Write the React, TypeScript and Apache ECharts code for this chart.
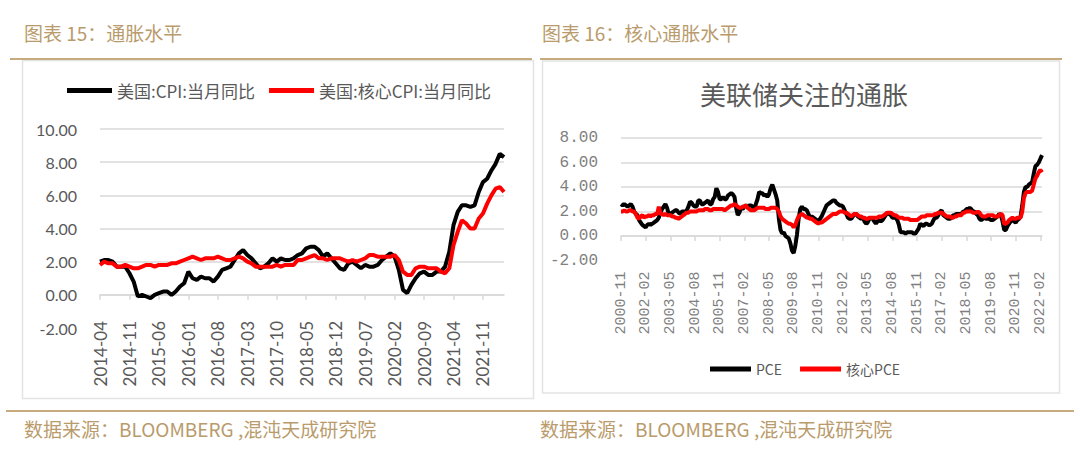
import React, { useEffect, useRef } from "react";
import * as echarts from "echarts";

function monthLabels(y0: number, m0: number, n: number): string[] {
  const out: string[] = [];
  let y = y0;
  let m = m0;
  for (let i = 0; i < n; i++) {
    out.push(`${y}-${m < 10 ? "0" + m : m}`);
    m++;
    if (m > 12) { m = 1; y++; }
  }
  return out;
}

// ---------- Left chart: US CPI YoY (2014-04 .. 2022-04) ----------
const cpiCategories = monthLabels(2014, 4, 97);
const cpiYoY = [
  2.0, 2.1, 2.1, 2.0, 1.7, 1.7, 1.7, 1.3, 0.8,
  -0.1, 0.0, -0.1, -0.2, 0.0, 0.1, 0.2, 0.2, 0.0, 0.2, 0.5, 0.7,
  1.4, 1.0, 0.9, 1.1, 1.0, 1.0, 0.8, 1.1, 1.5, 1.6, 1.7, 2.1,
  2.5, 2.7, 2.4, 2.2, 1.9, 1.6, 1.7, 1.9, 2.2, 2.0, 2.2, 2.1,
  2.1, 2.2, 2.4, 2.5, 2.8, 2.9, 2.9, 2.7, 2.3, 2.5, 2.2, 1.9,
  1.6, 1.5, 1.9, 2.0, 1.8, 1.6, 1.8, 1.7, 1.7, 1.8, 2.1, 2.3,
  2.5, 2.3, 1.5, 0.3, 0.1, 0.6, 1.0, 1.3, 1.4, 1.2, 1.2, 1.4,
  1.4, 1.7, 2.6, 4.2, 5.0, 5.4, 5.4, 5.3, 5.4, 6.2, 6.8, 7.0,
  7.5, 7.9, 8.5, 8.3,
];
const coreCpiYoY = [
  1.8, 2.0, 1.9, 1.9, 1.7, 1.7, 1.8, 1.7, 1.6,
  1.6, 1.7, 1.8, 1.8, 1.7, 1.8, 1.8, 1.8, 1.9, 1.9, 2.0, 2.1,
  2.2, 2.3, 2.2, 2.1, 2.2, 2.2, 2.2, 2.3, 2.2, 2.1, 2.1, 2.2,
  2.3, 2.2, 2.0, 1.9, 1.7, 1.7, 1.7, 1.7, 1.7, 1.8, 1.7, 1.8,
  1.8, 1.8, 2.1, 2.1, 2.2, 2.3, 2.4, 2.2, 2.2, 2.1, 2.2, 2.2,
  2.2, 2.1, 2.0, 2.1, 2.0, 2.1, 2.2, 2.4, 2.4, 2.3, 2.3, 2.3,
  2.3, 2.4, 2.1, 1.4, 1.2, 1.2, 1.6, 1.7, 1.7, 1.6, 1.6, 1.6,
  1.4, 1.3, 1.6, 3.0, 3.8, 4.5, 4.3, 4.0, 4.0, 4.6, 4.9, 5.5,
  6.0, 6.4, 6.5, 6.2,
];
const cpiNames = ["美国:CPI:当月同比", "美国:核心CPI:当月同比"];

// ---------- Right chart: PCE / core PCE YoY (2000-11 .. 2022-03) ----------
const pceCategories = monthLabels(2000, 11, 257);
const pceYoY = [
  2.6, 2.5,
  2.6, 2.5, 2.4, 2.5, 2.6, 2.4, 2.0, 1.8, 1.7, 1.3, 1.1, 0.9,
  0.8, 0.7, 0.9, 1.0, 0.9, 1.0, 1.1, 1.2, 1.3, 1.5, 1.9, 2.2,
  2.4, 2.6, 2.3, 1.8, 1.8, 1.9, 2.0, 2.1, 2.1, 1.9, 1.8, 2.0,
  2.0, 2.0, 2.1, 2.4, 2.8, 2.7, 2.5, 2.4, 2.4, 2.9, 2.9, 2.6,
  2.6, 2.7, 2.8, 2.9, 2.6, 2.6, 3.0, 3.2, 3.9, 3.6, 3.0, 3.0,
  3.2, 3.0, 3.0, 3.3, 3.4, 3.5, 3.4, 3.2, 2.3, 1.7, 1.9, 2.3,
  2.2, 2.4, 2.5, 2.4, 2.5, 2.5, 2.4, 2.2, 2.6, 3.0, 3.6, 3.5,
  3.5, 3.3, 3.4, 3.2, 3.4, 3.9, 4.2, 3.8, 3.4, 2.9, 1.4, 0.5,
  0.2, 0.3, 0.0, -0.1, -0.2, -0.6, -1.2, -1.4, -0.8, 0.1, 1.4, 2.2,
  2.4, 2.2, 2.2, 2.1, 1.8, 1.5, 1.6, 1.5, 1.4, 1.3, 1.2, 1.4,
  1.6, 1.9, 2.2, 2.5, 2.6, 2.7, 2.8, 2.9, 2.9, 2.7, 2.6, 2.5,
  2.5, 2.4, 2.1, 1.8, 1.5, 1.4, 1.4, 1.6, 1.8, 1.8, 1.6, 1.5,
  1.4, 1.5, 1.2, 1.0, 1.1, 1.4, 1.5, 1.4, 1.2, 1.0, 1.2, 1.3,
  1.2, 1.3, 1.5, 1.7, 1.9, 1.8, 1.7, 1.5, 1.5, 1.5, 1.3, 0.9,
  0.3, 0.3, 0.3, 0.2, 0.3, 0.3, 0.3, 0.3, 0.2, 0.2, 0.4, 0.6,
  1.0, 0.9, 0.8, 1.0, 1.0, 0.9, 0.9, 1.0, 1.3, 1.5, 1.5, 1.7,
  2.0, 2.1, 1.7, 1.6, 1.5, 1.4, 1.4, 1.5, 1.7, 1.7, 1.8, 1.8,
  1.8, 1.8, 2.0, 2.0, 2.2, 2.2, 2.3, 2.2, 2.0, 2.0, 1.8, 1.7,
  1.4, 1.3, 1.4, 1.5, 1.4, 1.4, 1.4, 1.3, 1.3, 1.4, 1.5, 1.6,
  1.8, 1.7, 1.2, 0.5, 0.5, 0.8, 1.0, 1.2, 1.3, 1.2, 1.1, 1.3,
  1.4, 1.6, 2.5, 3.6, 4.0, 4.0, 4.2, 4.3, 4.4, 5.1, 5.7, 5.8,
  6.0, 6.3, 6.6,
];
const corePceYoY = [
  2.0, 2.0,
  2.1, 2.0, 2.0, 2.1, 2.1, 2.0, 2.0, 1.8, 1.5, 1.4, 1.6, 1.7,
  1.5, 1.6, 1.6, 1.7, 1.6, 1.7, 1.7, 1.8, 1.8, 2.4, 1.8, 1.8,
  1.7, 1.8, 1.7, 1.7, 1.7, 1.6, 1.6, 1.5, 1.5, 1.4, 1.5, 1.6,
  1.7, 1.8, 1.9, 1.9, 2.0, 2.0, 2.0, 2.0, 2.0, 2.1, 2.1, 2.1,
  2.1, 2.2, 2.2, 2.2, 2.1, 2.1, 2.2, 2.2, 2.2, 2.2, 2.2, 2.2,
  2.2, 2.1, 2.2, 2.3, 2.4, 2.5, 2.5, 2.6, 2.5, 2.4, 2.3, 2.3,
  2.4, 2.4, 2.5, 2.3, 2.2, 2.1, 2.1, 2.1, 2.2, 2.3, 2.3, 2.3,
  2.3, 2.3, 2.2, 2.2, 2.2, 2.3, 2.3, 2.3, 2.3, 2.2, 2.0, 1.6,
  1.4, 1.3, 1.2, 1.1, 1.0, 1.0, 0.9, 0.7, 0.9, 1.3, 1.6, 1.7,
  1.8, 1.7, 1.6, 1.5, 1.5, 1.4, 1.4, 1.3, 1.2, 1.1, 1.0, 1.1,
  1.1, 1.2, 1.3, 1.4, 1.5, 1.6, 1.7, 1.8, 1.8, 1.8, 1.9, 2.0,
  2.0, 2.0, 1.9, 1.9, 1.8, 1.7, 1.6, 1.7, 1.8, 1.8, 1.7, 1.6,
  1.6, 1.5, 1.5, 1.4, 1.4, 1.5, 1.5, 1.5, 1.5, 1.5, 1.5, 1.6,
  1.6, 1.6, 1.7, 1.8, 1.9, 1.9, 1.9, 1.8, 1.7, 1.7, 1.6, 1.5,
  1.5, 1.5, 1.4, 1.4, 1.4, 1.4, 1.3, 1.3, 1.3, 1.3, 1.3, 1.4,
  1.5, 1.6, 1.6, 1.6, 1.7, 1.7, 1.7, 1.7, 1.7, 1.8, 1.8, 1.9,
  1.9, 1.9, 1.8, 1.7, 1.6, 1.6, 1.6, 1.5, 1.5, 1.6, 1.6, 1.7,
  1.7, 1.7, 1.9, 1.9, 2.0, 2.0, 2.0, 2.0, 1.9, 1.9, 1.9, 2.0,
  1.9, 1.7, 1.6, 1.6, 1.6, 1.7, 1.7, 1.7, 1.7, 1.6, 1.6, 1.6,
  1.7, 1.8, 1.7, 1.0, 1.0, 1.1, 1.3, 1.4, 1.5, 1.4, 1.4, 1.5,
  1.5, 1.5, 2.0, 3.1, 3.5, 3.6, 3.6, 3.6, 3.7, 4.2, 4.7, 4.9,
  5.2, 5.4, 5.2,
];
const pceNames = ["PCE", "核心PCE"];

const leftHeader = "图表 15：通胀水平";
const rightHeader = "图表 16：核心通胀水平";
const rightTitle = "美联储关注的通胀";
const sourceNote = "数据来源：BLOOMBERG ,混沌天成研究院";

const GOLD = "#C6AB7E";
const GOLD_TEXT = "#B99B6C";
const GRID_LINE = "#D9D9D9";
const CJK = "'Noto Sans CJK SC', 'Noto Sans', sans-serif";

export default function App() {
  const ref = useRef<HTMLDivElement>(null);
  useEffect(() => {
    if (!ref.current) return;
    const chart = echarts.init(ref.current, null, { renderer: "svg", width: 1080, height: 455 });
    const option: any = {
      animation: false,
      backgroundColor: "#ffffff",
      grid: [
        { left: 100, top: 129, width: 404, height: 199 },
        { left: 621, top: 138, width: 421, height: 122.5 },
      ],
      legend: [
        {
          data: cpiNames,
          left: 62,
          top: 77,
          icon: "rect",
          itemWidth: 45,
          itemHeight: 5,
          itemGap: 14,
          selectedMode: false,
          textStyle: { fontSize: 17, color: "#595959", fontFamily: CJK },
        },
        {
          data: pceNames,
          left: 705,
          top: 357,
          icon: "rect",
          itemWidth: 41,
          itemHeight: 5,
          itemGap: 18,
          selectedMode: false,
          textStyle: { fontSize: 14, color: "#595959", fontFamily: CJK },
        },
      ],
      xAxis: [
        {
          gridIndex: 0,
          type: "category",
          data: cpiCategories,
          boundaryGap: false,
          offset: -15,
          axisLine: { lineStyle: { color: GRID_LINE, width: 1.5 } },
          axisTick: { interval: 6, length: 5, lineStyle: { color: GRID_LINE, width: 1.5 } },
          axisLabel: {
            interval: 6,
            rotate: 90,
            margin: 8,
            color: "#595959",
            fontSize: 17,
            fontFamily: "Lato, 'Liberation Sans', sans-serif",
          },
          splitLine: { show: false },
        },
        {
          gridIndex: 1,
          type: "category",
          data: pceCategories,
          boundaryGap: false,
          axisLine: { lineStyle: { color: GRID_LINE, width: 1.5 } },
          axisTick: { interval: 14, length: 5, lineStyle: { color: GRID_LINE, width: 1.5 } },
          axisLabel: {
            interval: 14,
            rotate: 90,
            margin: 11,
            color: "#7F7F7F",
            fontSize: 15,
            fontFamily: "'Liberation Mono', 'DejaVu Sans Mono', monospace",
          },
          splitLine: { show: false },
        },
      ],
      yAxis: [
        {
          gridIndex: 0,
          type: "value",
          min: -2,
          max: 10,
          interval: 2,
          axisLine: { show: false },
          axisTick: { show: false },
          axisLabel: {
            margin: 23,
            color: "#595959",
            fontSize: 16,
            fontFamily: "Lato, 'Liberation Sans', sans-serif",
            formatter: (v: number) => v.toFixed(2),
          },
          splitLine: { showMinLine: false, lineStyle: { color: GRID_LINE, width: 1.5 } },
        },
        {
          gridIndex: 1,
          type: "value",
          min: -2,
          max: 8,
          interval: 2,
          axisLine: { show: false },
          axisTick: { show: false },
          axisLabel: {
            margin: 23,
            color: "#7F7F7F",
            fontSize: 16,
            fontFamily: "'Liberation Mono', 'DejaVu Sans Mono', monospace",
            formatter: (v: number) => v.toFixed(2),
          },
          splitLine: { showMinLine: false, lineStyle: { color: GRID_LINE, width: 1.5 } },
        },
      ],
      series: [
        {
          name: cpiNames[0],
          type: "line",
          xAxisIndex: 0,
          yAxisIndex: 0,
          data: cpiYoY,
          showSymbol: false,
          silent: true,
          color: "#000000",
          lineStyle: { color: "#000000", width: 4 },
        },
        {
          name: cpiNames[1],
          type: "line",
          xAxisIndex: 0,
          yAxisIndex: 0,
          data: coreCpiYoY,
          showSymbol: false,
          silent: true,
          color: "#FF0000",
          lineStyle: { color: "#FF0000", width: 4 },
        },
        {
          name: pceNames[0],
          type: "line",
          xAxisIndex: 1,
          yAxisIndex: 1,
          data: pceYoY,
          showSymbol: false,
          silent: true,
          color: "#000000",
          lineStyle: { color: "#000000", width: 4 },
        },
        {
          name: pceNames[1],
          type: "line",
          xAxisIndex: 1,
          yAxisIndex: 1,
          data: corePceYoY,
          showSymbol: false,
          silent: true,
          color: "#FF0000",
          lineStyle: { color: "#FF0000", width: 4 },
        },
      ],
      graphic: [
        {
          type: "rect",
          z: -1,
          shape: { x: 22.5, y: 60.5, width: 511, height: 338 },
          style: { fill: "none", stroke: "#E3E3E3", lineWidth: 1.5 },
        },
        {
          type: "rect",
          z: -1,
          shape: { x: 542.5, y: 61, width: 517, height: 332 },
          style: { fill: "none", stroke: "#E3E3E3", lineWidth: 1.5 },
        },
        {
          type: "line",
          shape: { x1: 10, y1: 59, x2: 532, y2: 59 },
          style: { stroke: GOLD, lineWidth: 2 },
        },
        {
          type: "line",
          shape: { x1: 540, y1: 59, x2: 1062, y2: 59 },
          style: { stroke: GOLD, lineWidth: 2 },
        },
        {
          type: "line",
          shape: { x1: 6, y1: 411, x2: 1074, y2: 411 },
          style: { stroke: GOLD, lineWidth: 2 },
        },
        {
          type: "text",
          x: 24,
          y: 32,
          style: {
            text: leftHeader,
            fill: GOLD_TEXT,
            fontSize: 19,
            fontFamily: CJK,
            textVerticalAlign: "middle",
          },
        },
        {
          type: "text",
          x: 542,
          y: 32,
          style: {
            text: rightHeader,
            fill: GOLD_TEXT,
            fontSize: 19,
            fontFamily: CJK,
            textVerticalAlign: "middle",
          },
        },
        {
          type: "text",
          x: 804,
          y: 93,
          style: {
            text: rightTitle,
            fill: "#595959",
            fontSize: 26,
            fontFamily: CJK,
            textAlign: "center",
            textVerticalAlign: "middle",
          },
        },
        {
          type: "text",
          x: 24,
          y: 428,
          style: {
            text: sourceNote,
            fill: GOLD_TEXT,
            fontSize: 19,
            fontFamily: CJK,
            textVerticalAlign: "middle",
          },
        },
        {
          type: "text",
          x: 540,
          y: 428,
          style: {
            text: sourceNote,
            fill: GOLD_TEXT,
            fontSize: 19,
            fontFamily: CJK,
            textVerticalAlign: "middle",
          },
        },
      ],
    };
    chart.setOption(option);
    return () => chart.dispose();
  }, []);
  return (
    <div
      ref={ref}
      style={{ position: "fixed", left: 0, top: 0, width: 1080, height: 455, background: "#ffffff" }}
    />
  );
}
